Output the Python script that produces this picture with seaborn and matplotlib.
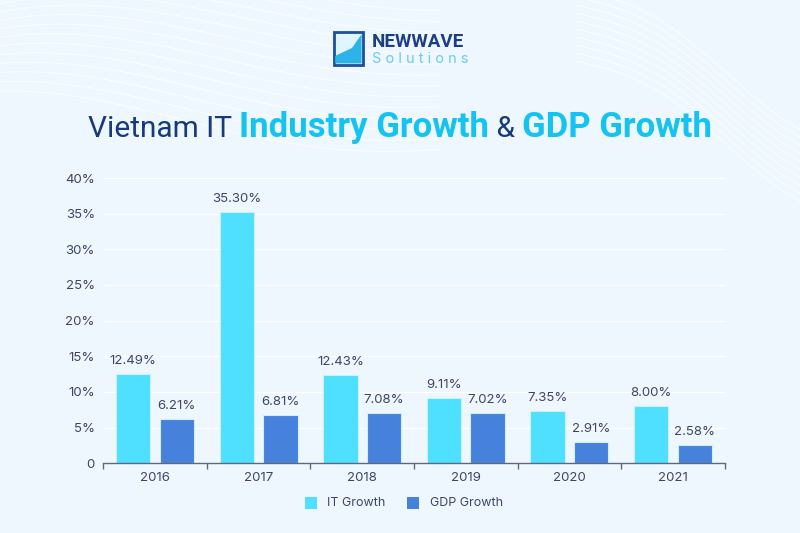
import numpy as np
import pandas as pd
import matplotlib.pyplot as plt
import seaborn as sns
from matplotlib.patches import Rectangle, Polygon

years = ["2016", "2017", "2018", "2019", "2020", "2021"]
it_growth = [12.49, 35.30, 12.43, 9.11, 7.35, 8.00]
gdp_growth = [6.21, 6.81, 7.08, 7.02, 2.91, 2.58]
series_names = ["IT Growth", "GDP Growth"]
y_ticks = [0, 5, 10, 15, 20, 25, 30, 35, 40]

bg = "#eef7fd"
navy = "#173a7c"
cyan = "#14c3f0"
text_col = "#3b4766"
colors = ["#4fdfff", "#4682dc"]

df = pd.DataFrame({
    "year": years * 2,
    "value": it_growth + gdp_growth,
    "series": [series_names[0]] * len(years) + [series_names[1]] * len(years),
})

sns.set_theme(style="white")
plt.rcParams["font.family"] = ["Inter", "DejaVu Sans"]

fig = plt.figure(figsize=(8, 5.33), dpi=100, facecolor=bg)

# faint background waves (decoration)
bgax = fig.add_axes([0, 0, 1, 1], zorder=-1)
bgax.set_xlim(0, 1)
bgax.set_ylim(0, 1)
bgax.axis("off")
t = np.linspace(0, 1, 200)
for k in range(14):
    yy = 0.98 - 0.02 * k + 0.12 * np.sin(2.6 * t + 0.5 + 0.05 * k) * (1 - t)
    bgax.plot(t * 0.55, yy, color="white", lw=0.8, alpha=0.7)
for k in range(10):
    yy = 1.02 - 0.015 * k - 0.25 * t
    bgax.plot(0.72 + t * 0.3, yy + 0.03 * np.sin(5 * t), color="white", lw=0.8, alpha=0.6)

ax = fig.add_axes([0.129, 0.131, 0.777, 0.535])
ax.set_facecolor("none")
sns.barplot(data=df, x="year", y="value", hue="series", palette=colors,
            width=0.84, gap=0.21, ax=ax, edgecolor="#cdefff", linewidth=0.8,
            legend=False, saturation=1)

for cont in ax.containers:
    ax.bar_label(cont, fmt="%.2f%%", padding=5, fontsize=9.5, color=text_col)

ax.set_ylim(0, 40)
ax.set_xlim(-0.5, len(years) - 0.5)
ax.set_yticks(y_ticks)
ax.set_yticklabels(["0"] + [f"{v}%" for v in y_ticks[1:]], fontsize=9.5, color=text_col)
ax.yaxis.grid(True, color="white", lw=1)
ax.set_axisbelow(True)
ax.set_xlabel("")
ax.set_ylabel("")
for s in ["top", "right", "left"]:
    ax.spines[s].set_visible(False)
ax.spines["bottom"].set_color("#5a6785")
ax.spines["bottom"].set_linewidth(1)

# category boundary ticks
ax.set_xticks(np.arange(-0.5, len(years), 1.0))
ax.set_xticklabels([])
ax.set_xticks(range(len(years)), minor=True)
ax.set_xticklabels(years, minor=True, fontsize=9.5, color=text_col)
ax.tick_params(axis="x", which="major", length=4, width=1, color="#5a6785", direction="out", bottom=True)
ax.tick_params(axis="x", which="minor", length=0, pad=6)
ax.tick_params(axis="y", length=0, pad=6)

# legend
for i, (name, c) in enumerate(zip(series_names, colors)):
    x0 = 0.381 + i * 0.128
    fig.patches.append(Rectangle((x0, 0.045), 0.015, 0.0225, transform=fig.transFigure,
                                 facecolor=c, edgecolor="none"))
    fig.text(x0 + 0.028, 0.056, name, fontsize=9, color=text_col, va="center")

# title
title_parts = [("Vietnam IT ", navy, "normal", 21.5), ("Industry Growth", cyan, "bold", 25),
               (" & ", navy, "normal", 21.5), ("GDP Growth", cyan, "bold", 25)]
fig.canvas.draw()
r = fig.canvas.get_renderer()
texts = []
for s, c, w, fs in title_parts:
    tx = fig.text(0, 0.743, s, color=c, fontweight=w, fontsize=fs, va="baseline",
                  family=["Roboto", "DejaVu Sans"])
    texts.append(tx)
widths = [tx.get_window_extent(r).width / fig.bbox.width for tx in texts]
x = 0.5 - sum(widths) / 2
for tx, wd in zip(texts, widths):
    tx.set_x(x)
    x += wd

# logo
fig.patches.append(Rectangle((0.417, 0.878), 0.037, 0.062, transform=fig.transFigure,
                             facecolor="#dff6ff", edgecolor="#1d4f9c", lw=2))
fig.patches.append(Polygon([(0.419, 0.881), (0.452, 0.881), (0.452, 0.936), (0.44, 0.91), (0.419, 0.895)],
                           closed=True, transform=fig.transFigure, facecolor="#2bb3ea", edgecolor="none"))
fig.text(0.465, 0.922, "NEWWAVE", fontsize=13.5, fontweight="bold", color="#1b3f86",
         va="center", family=["Roboto", "DejaVu Sans"])
fig.text(0.465, 0.889, "S o l u t i o n s", fontsize=10.5, color="#6ccaf0", va="center")

fig.savefig("out.png", dpi=100, facecolor=bg)
